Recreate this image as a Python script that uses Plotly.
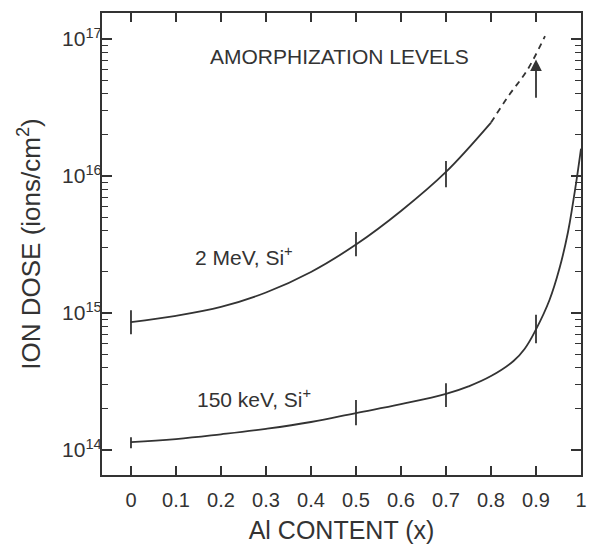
import math
import plotly.graph_objects as go

# ---------------- data ----------------
# 2 MeV Si+ amorphization dose (solid part)
x_2mev = [0, 0.1, 0.2, 0.3, 0.4, 0.5, 0.6, 0.7, 0.8]
dose_2mev = [8.59e14, 9.55e14, 1.109e15, 1.413e15, 1.995e15, 3.162e15, 5.56e15, 1.072e16, 2.455e16]
# 2 MeV Si+ extrapolated (dashed part)
x_2mev_ext = [0.8, 0.84, 0.88, 0.92]
dose_2mev_ext = [2.455e16, 3.89e16, 5.89e16, 1.05e17]

# 150 keV Si+ amorphization dose
x_150 = [0, 0.1, 0.2, 0.3, 0.4, 0.5, 0.6, 0.7, 0.75, 0.8, 0.85, 0.875, 0.9,
         0.93, 0.953, 0.971, 0.982, 0.991, 1.0]
dose_150 = [1.143e14, 1.202e14, 1.303e14, 1.429e14, 1.603e14, 1.862e14, 2.163e14,
            2.57e14, 2.917e14, 3.467e14, 4.467e14, 5.495e14, 7.6e14,
            1.245e15, 2.168e15, 3.89e15, 6.31e15, 9.77e15, 1.585e16]

# measured points with their vertical bars
pts_2mev_x = [0, 0.5, 0.7]
pts_2mev = [8.59e14, 3.162e15, 1.072e16]
pts_2mev_hi = [1.05e15, 3.9e15, 1.29e16]
pts_2mev_lo = [7.0e14, 2.6e15, 8.3e15]

pts_150_x = [0, 0.5, 0.7, 0.9]
pts_150 = [1.143e14, 1.862e14, 2.57e14, 7.6e14]
pts_150_hi = [1.24e14, 2.32e14, 3.08e14, 9.7e14]
pts_150_lo = [1.03e14, 1.52e14, 2.06e14, 6.03e14]

# lower-limit arrow at x = 0.9 (2 MeV)
arrow_x = 0.9
arrow_from = 3.63e16
arrow_to = 7.1e16

x_ticks = [0, 0.1, 0.2, 0.3, 0.4, 0.5, 0.6, 0.7, 0.8, 0.9, 1.0]
x_tick_text = ["0", "0.1", "0.2", "0.3", "0.4", "0.5", "0.6", "0.7", "0.8", "0.9", "1"]
y_ticks = [1e14, 1e15, 1e16, 1e17]
y_tick_text = ["10<sup>14</sup>", "10<sup>15</sup>", "10<sup>16</sup>", "10<sup>17</sup>"]
y_minor = [m * 10.0 ** e for e in (14, 15, 16) for m in range(2, 10)]

# ---------------- style ----------------
INK = "#333333"
FONT = "Liberation Sans, Arial, sans-serif"

fig = go.Figure()

fig.add_trace(go.Scatter(x=x_2mev, y=dose_2mev, mode="lines",
                         line=dict(color=INK, width=1.8, shape="spline", smoothing=1.0),
                         hoverinfo="skip", showlegend=False))
fig.add_trace(go.Scatter(x=x_2mev_ext, y=dose_2mev_ext, mode="lines",
                         line=dict(color=INK, width=1.8, dash="6px,5px", shape="spline", smoothing=1.0),
                         hoverinfo="skip", showlegend=False))
fig.add_trace(go.Scatter(x=x_150, y=dose_150, mode="lines",
                         line=dict(color=INK, width=1.8, shape="spline", smoothing=1.2),
                         hoverinfo="skip", showlegend=False))


def bars(xs, c, hi, lo):
    return go.Scatter(
        x=xs, y=c, mode="markers",
        marker=dict(size=1, color=INK),
        error_y=dict(type="data", symmetric=False,
                     array=[h - v for h, v in zip(hi, c)],
                     arrayminus=[v - l for v, l in zip(c, lo)],
                     width=0, thickness=1.8, color=INK),
        hoverinfo="skip", showlegend=False)


fig.add_trace(bars(pts_2mev_x, pts_2mev, pts_2mev_hi, pts_2mev_lo))
fig.add_trace(bars(pts_150_x, pts_150, pts_150_hi, pts_150_lo))

fig.add_annotation(x=arrow_x, y=math.log10(arrow_to), ax=arrow_x, ay=math.log10(arrow_from),
                   xref="x", yref="y", axref="x", ayref="y", text="",
                   showarrow=True, arrowhead=2, arrowsize=1.3, arrowwidth=1.8,
                   arrowcolor=INK, standoff=0, startstandoff=0)

fig.add_annotation(x=0.464, y=16.87, xref="x", yref="y", text="AMORPHIZATION LEVELS",
                   showarrow=False, xanchor="center", yanchor="middle",
                   font=dict(family=FONT, size=21, color=INK))
fig.add_annotation(x=0.138, y=15.42, xref="x", yref="y", text="2 MeV, Si<sup>+</sup>",
                   showarrow=False, xanchor="left", yanchor="middle",
                   font=dict(family=FONT, size=21, color=INK))
fig.add_annotation(x=0.142, y=14.38, xref="x", yref="y", text="150 keV, Si<sup>+</sup>",
                   showarrow=False, xanchor="left", yanchor="middle",
                   font=dict(family=FONT, size=21, color=INK))

# the page body adds an 8 px offset, so the figure is 8 px smaller and margins shifted
fig.update_layout(
    width=587, height=536,
    margin=dict(l=94, r=14, t=5, b=69),
    paper_bgcolor="white", plot_bgcolor="white",
    font=dict(family=FONT, color=INK),
    showlegend=False,
)

fig.update_xaxes(
    range=[-0.0644, 1.0], tickmode="array", tickvals=x_ticks, ticktext=x_tick_text,
    ticks="inside", ticklen=9, tickwidth=1.5, tickcolor=INK,
    showline=True, linewidth=2, linecolor=INK, mirror="allticks",
    showgrid=False, zeroline=False, automargin=False, ticklabelstandoff=6,
    tickfont=dict(family=FONT, size=20, color=INK),
    title=dict(text="Al CONTENT (x)", font=dict(family=FONT, size=25, color=INK), standoff=18),
)
fig.update_yaxes(
    type="log", range=[13.818, 17.19], tickmode="array", tickvals=y_ticks, ticktext=y_tick_text,
    ticks="inside", ticklen=10, tickwidth=1.5, tickcolor=INK,
    minor=dict(tickmode="array", tickvals=y_minor, ticks="inside", ticklen=6,
               tickwidth=1.3, tickcolor=INK, showgrid=False),
    showline=True, linewidth=2, linecolor=INK, mirror="allticks",
    showgrid=False, zeroline=False, automargin=False, ticklabelstandoff=-6,
    tickfont=dict(family=FONT, size=21, color=INK),
    title=dict(text="ION DOSE (ions/cm<sup>2</sup>)", font=dict(family=FONT, size=26, color=INK),
               standoff=14),
)

fig.write_html("out.html")
